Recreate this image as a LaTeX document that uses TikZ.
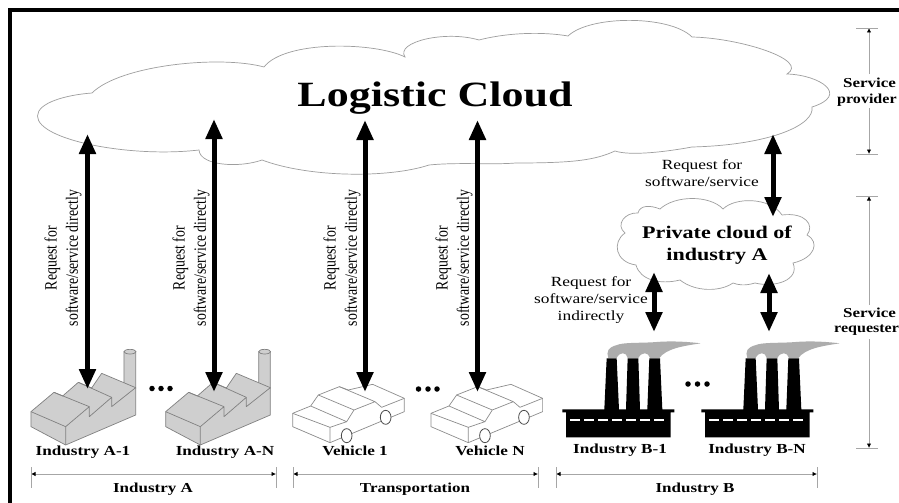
\documentclass[tikz,border=0pt]{standalone}
\usepackage{fontspec}
\setmainfont{Liberation Serif}
\usetikzlibrary{arrows.meta}
\tikzset{
  cloudline/.style={draw=black!38,line width=0.7pt,fill=white},
  bigarrow/.style={line width=5pt,{Triangle[width=16pt,length=20pt]}-{Triangle[width=16pt,length=20pt]}},
  dimline/.style={draw=black!35,line width=0.8pt},
  dimarrow/.style={dimline,{Latex[black,length=4.5pt,width=4.5pt]}-{Latex[black,length=4.5pt,width=4.5pt]}},
  dimtip/.style={dimline,-{Latex[black,length=4.5pt,width=4.5pt]}},
  widetext/.style={transform shape,xscale=1.24},
  reqlabel/.style={widetext,font=\fontsize{14}{17}\selectfont,align=center,inner sep=0pt},
  vertlabel/.style={transform shape,xscale=1.25,rotate=90,font=\fontsize{13.8}{17}\selectfont,align=center,inner sep=0pt},
  itemlabel/.style={widetext,font=\bfseries\fontsize{13.8}{15}\selectfont,inner sep=0pt},
  grouplabel/.style={widetext,font=\bfseries\fontsize{13.7}{15}\selectfont,inner sep=0pt},
  sidelabel/.style={widetext,font=\bfseries\fontsize{13.7}{17}\selectfont,inner sep=0pt},
  sidelabeltight/.style={transform shape,xscale=1.17,font=\bfseries\fontsize{13.7}{17}\selectfont,inner sep=0pt},
  plant/.style={draw=black!50,line width=0.7pt,fill=black!19,line join=round},
  carline/.style={draw=black!45,line width=0.7pt,fill=white,line join=round},
  wheel/.style={draw=black!70,line width=0.8pt,fill=white},
  dotmark/.style={circle,fill=black,inner sep=0pt,minimum size=5.5pt},
}
\newcommand{\drawplant}[1]{%
  \begin{scope}[shift={(#1,320)},x=0.3333pt,y=-0.3333pt]
    \path[plant] (372,190) -- (372,95) -- (407,95) -- (407,205) -- cycle;
    \path[plant] (390,95) ellipse[x radius=18,y radius=7];
    \path[plant] (93,275) -- (162,217) -- (188,228) -- (235,187) -- (275,204) -- (305,160) -- (407,203) -- (407,285) -- (197,375) -- (93,320) -- cycle;
    \path[plant,fill=none] (93,275) -- (197,320) -- (197,375);
    \path[plant,fill=none] (197,320) -- (268,260) -- (268,290) -- (335,232) -- (335,260) -- (407,203);
    \path[plant,fill=none] (162,217) -- (268,260) (235,187) -- (335,232);
  \end{scope}}
\newcommand{\drawcar}[1]{%
  \begin{scope}[shift={(#1,320)},x=0.3333pt,y=-0.3333pt]
    \path[carline] (38,280) -- (38,320) -- (150,368) -- (373,275) -- (373,235) -- (278,193) -- (205,210) -- (178,200) -- (115,225) -- (92,258) -- cycle;
    \path[carline,fill=none] (38,280) -- (150,322) -- (150,368) (150,322) -- (200,305) -- (222,270) -- (285,245) -- (305,262) -- (373,235)
      (92,258) -- (200,305) (115,225) -- (222,270) (178,200) -- (285,245);
    \path[wheel] (200,347) ellipse[x radius=16,y radius=21];
    \path[wheel] (317,292) ellipse[x radius=16,y radius=21];
  \end{scope}}
\newcommand{\drawsmoke}[1]{%
  \begin{scope}[shift={(#1,320)},x=0.3333pt,y=-0.3333pt]
    \fill[black!32] (205,114) .. controls (198,95) and (205,82) .. (228,76) .. controls (250,66) and (300,70) .. (350,66) .. controls (400,62) and (450,66) .. (482,70) .. controls (430,78) and (380,85) .. (358,114) -- (330,114) .. controls (325,95) and (305,95) .. (295,114) -- (263,114) .. controls (260,95) and (238,95) .. (230,114) -- cycle;
    \fill[black] (67,268) -- (193,268) -- (200,115) -- (230,115) -- (237,268) -- (258,268) -- (263,115) -- (295,115) -- (300,268) -- (322,268) -- (328,115) -- (360,115) -- (367,268) -- (403,268) -- (403,277) -- (392,277) -- (392,352) -- (78,352) -- (78,277) -- (67,277) -- cycle;
    \draw[white,line width=1.7pt,dash pattern=on 10pt off 4pt] (90,300) -- (378,300);
  \end{scope}}
\begin{document}
\begin{tikzpicture}[x=1pt,y=-1pt]
\useasboundingbox (0,0) rectangle (899,503);
\fill[white] (0,0) rectangle (899,503);
\fill[black] (8,8) rectangle (899,12);
\fill[black] (8,8) rectangle (12,503);

% big cloud
\path[cloudline] (92,93) .. controls (120,65) and (220,55) .. (264,67)
  .. controls (285,40) and (375,42) .. (405,57)
  .. controls (395,42) and (445,30) .. (479,40)
  .. controls (510,32) and (545,32) .. (568,36)
  .. controls (590,15) and (670,15) .. (692,37)
  .. controls (740,38) and (810,60) .. (787,74)
  .. controls (820,75) and (850,95) .. (812,107)
  .. controls (815,125) and (770,145) .. (692,147)
  .. controls (665,152) and (630,156) .. (615,151)
  .. controls (595,160) and (575,163) .. (516,163)
  .. controls (490,165) and (460,162) .. (429,165)
  .. controls (390,178) and (310,178) .. (262,160)
  .. controls (240,168) and (200,166) .. (199,150)
  .. controls (130,158) and (37.5,140) .. (37.5,116)
  .. controls (37.5,103) and (65,95) .. cycle;
\node[widetext,font=\bfseries\fontsize{35.5}{38}\selectfont,inner sep=0pt] (logistic) at (435,98) {Logistic Cloud};

% private cloud
\path[cloudline] (638,213)
  .. controls (640,205) and (650,205) .. (660,209)
  .. controls (675,195) and (710,195) .. (723,209)
  .. controls (735,197) and (770,197) .. (782,215)
  .. controls (805,212) and (815,225) .. (807,235)
  .. controls (820,242) and (815,258) .. (793,263)
  .. controls (800,280) and (775,288) .. (755,283)
  .. controls (745,286) and (738,285) .. (733,283)
  .. controls (720,292) and (695,292) .. (680,280)
  .. controls (660,285) and (640,280) .. (636,265)
  .. controls (615,262) and (612,242) .. (625,233)
  .. controls (615,225) and (625,212) .. cycle;
\node[widetext,font=\bfseries\fontsize{17.8}{21.5}\selectfont,align=center,inner sep=0pt] (privatecloud) at (717,245) {Private cloud of\\industry A};

% plants
\drawplant{0}
\drawplant{134.67}
\drawcar{280}
\drawcar{418.3}
\drawsmoke{540}
\drawsmoke{679}

% anchor points of the arrows
\coordinate (a1t) at (87.5,134); \coordinate (a1b) at (87.5,389);
\coordinate (a2t) at (214,119);  \coordinate (a2b) at (214,392);
\coordinate (v1t) at (365,120);  \coordinate (v1b) at (365,392);
\coordinate (v2t) at (477.5,120);\coordinate (v2b) at (477.5,392);
\coordinate (pct) at (773,134);  \coordinate (pcb) at (773,217);
\coordinate (b1t) at (654,272);  \coordinate (b1b) at (654,332);
\coordinate (b2t) at (769,273);  \coordinate (b2b) at (769,332);
\foreach \p/\q in {a1t/a1b,a2t/a2b,v1t/v1b,v2t/v2b,pct/pcb,b1t/b1b,b2t/b2b}
  \draw[bigarrow] (\p) -- (\q);

% vertical labels
\node[vertlabel] (la1) at (63,258) {Request for\\software/service directly};
\node[vertlabel] (la2) at (191,258) {Request for\\software/service directly};
\node[vertlabel] (lv1) at (342,258) {Request for\\software/service directly};
\node[vertlabel] (lv2) at (454,258) {Request for\\software/service directly};
\node[reqlabel] (lp) at (702,173.5) {Request for\\software/service};
\node[reqlabel] (lb) at (591,300) {Request for\\software/service\\indirectly};

% dots
\foreach \x in {152,161,170} \node[dotmark] (da\x) at (\x,388.5) {};
\foreach \x in {418.5,428,437} \node[dotmark] (dv\x) at (\x,389) {};
\foreach \x in {688,697.5,707} \node[dotmark] (db\x) at (\x,384) {};

% item labels
\node[itemlabel] (i1) at (83,452) {Industry A-1};
\node[itemlabel] (i2) at (225,452) {Industry A-N};
\node[itemlabel] (i3) at (355,451) {Vehicle 1};
\node[itemlabel] (i4) at (490,451) {Vehicle N};
\node[itemlabel] (i5) at (620,450) {Industry B-1};
\node[itemlabel] (i6) at (757,450) {Industry B-N};

% group spans
\coordinate (ga) at (31,474); \coordinate (gb) at (276,474);
\coordinate (gc) at (293,474); \coordinate (gd) at (538,474);
\coordinate (ge) at (556,474); \coordinate (gf) at (817,474);
\draw[dimarrow] (ga) -- (gb);
\draw[dimarrow] (gc) -- (gd);
\draw[dimarrow] (ge) -- (gf);
\foreach \c in {ga,gb,gc,gd,ge,gf}
  \draw[dimline] ([yshift=7pt]\c) -- ([yshift=-14pt]\c);
\node[grouplabel] (g1) at (153,489) {Industry A};
\node[grouplabel] (g2) at (415,489) {Transportation};
\node[grouplabel] (g3) at (695,489) {Industry B};

% right side spans
\node[sidelabel] (sp1) at (869.5,83) {Service};
\node[sidelabeltight,anchor=west] (sp2) at (837,100) {provider};
\node[sidelabel] (sr1) at (869.5,313) {Service};
\node[sidelabeltight,anchor=west] (sr2) at (834,330) {requester};
\coordinate (t1) at (869,28);  \coordinate (t2) at (869,154);
\coordinate (t3) at (869,196); \coordinate (t4) at (869,448);
\coordinate (m1) at (869,74);  \coordinate (m2) at (869,108);
\coordinate (m3) at (869,305); \coordinate (m4) at (869,339);
\draw[dimtip] (m1) -- (t1);
\draw[dimtip] (m2) -- (t2);
\draw[dimtip] (m3) -- (t3);
\draw[dimtip] (m4) -- (t4);
\foreach \c in {t1,t2,t3,t4}
  \draw[dimline] ([xshift=-13pt]\c) -- ([xshift=9pt]\c);
\end{tikzpicture}
\end{document}
